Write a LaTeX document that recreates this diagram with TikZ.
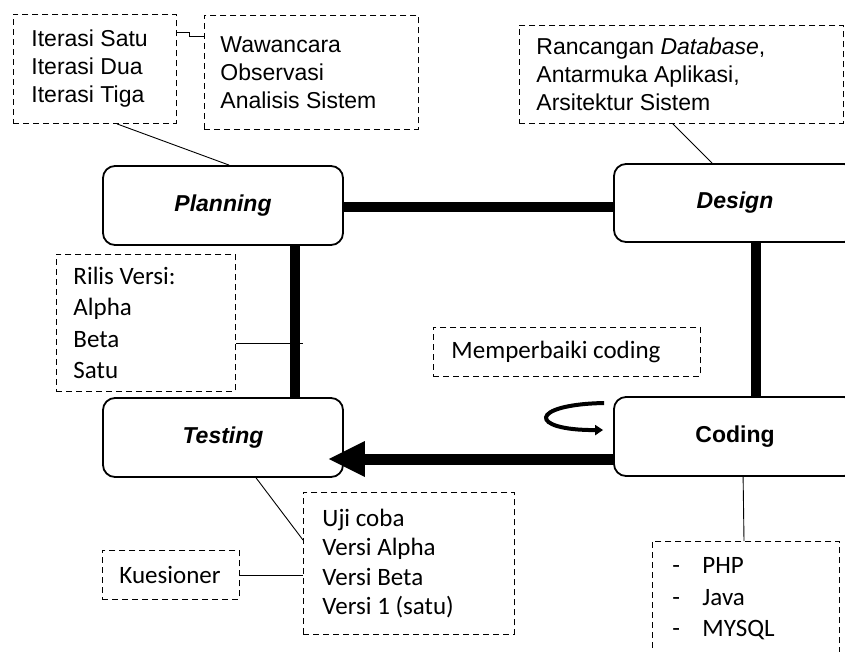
\documentclass[tikz,border=0pt]{standalone}
\usepackage{fontspec}
\setmainfont{Liberation Sans}
\newfontfamily\calfont{Carlito}
\usetikzlibrary{arrows.meta,calc}
\begin{document}
\begin{tikzpicture}[x=1pt,y=-1pt,
 proc/.style={draw, line width=1.8pt, rounded corners=12pt, fill=white, inner sep=0pt, font=\fontsize{23}{28}\selectfont\bfseries\itshape},
 dbox/.style={draw, dashed, dash pattern=on 6pt off 4pt, line width=0.9pt, anchor=north west, align=flush left, inner ysep=0pt},
 arial/.style={font=\fontsize{23}{28}\selectfont},
 calib/.style={font=\calfont\fontsize{25}{31.5}\selectfont},
 link/.style={line width=0.9pt},
 bar/.style={line width=10pt},
]
\useasboundingbox (0,0) rectangle (845,651);

% process nodes
\node[proc, minimum width=240pt, minimum height=79pt] (plan) at (223,205.5) {Planning};
\node[proc, minimum width=242pt, minimum height=78pt] (design) at (735,203) {Design};
\node[proc, minimum width=240pt, minimum height=79pt] (test) at (223,437.5) {Testing};
\node[proc, minimum width=242pt, minimum height=79pt, font=\fontsize{23}{28}\selectfont\bfseries\upshape] (code) at (735,436.5) {Coding};

% note boxes
\node[dbox, arial, text width=127pt, inner xsep=18pt, minimum height=109pt] (iter) at (13,14) {Iterasi Satu\\Iterasi Dua\\Iterasi Tiga};
\node[dbox, arial, text width=182pt, inner xsep=16pt, minimum height=114pt] (wawa) at (204,15) {Wawancara\\Observasi\\Analisis Sistem};
\node[dbox, arial, text width=290pt, inner xsep=17pt, minimum height=98pt] (ranc) at (519,25) {Rancangan \textit{Database},\\Antarmuka Aplikasi,\\Arsitektur Sistem};
\node[dbox, calib, text width=145pt, inner xsep=17pt, minimum height=137pt] (rilis) at (56,254) {Rilis Versi:\\Alpha\\Beta\\Satu};
\node[dbox, calib, text width=231pt, inner xsep=18pt, minimum height=49pt] (perb) at (433,327) {Memperbaiki coding};
\node[dbox, font=\calfont\fontsize{25}{29.5}\selectfont, text width=173pt, inner xsep=19pt, minimum height=142pt] (uji) at (303,492) {Uji coba\\Versi Alpha\\Versi Beta\\Versi 1 (satu)};
\node[dbox, calib, text width=103pt, inner xsep=17pt, minimum height=49pt] (kues) at (102,550) {Kuesioner};
\node[dbox, calib, text width=147pt, inner xsep=20pt, minimum height=115pt] (lang) at (652,541) {\makebox[30pt][l]{-}PHP\\\makebox[30pt][l]{-}Java\\\makebox[30pt][l]{-}MYSQL};

% thick cycle connectors
\draw[bar] ($(plan.east)+(0,1.2)$) -- ($(design.west)+(0,3.7)$);
\draw[bar] ($(plan.south)+(72,0)$) -- ($(test.north)+(72,0)$);
\draw[bar] ($(design.south)+(21,0)$) -- ($(code.north)+(21,0)$);
\draw[line width=11pt, -{Triangle[length=37pt,width=33pt]}] ($(code.west)+(0,22.5)$) -- ($(test.east)+(-16,21.5)$);

% self loop on coding
\draw[line width=4pt, -{Triangle[length=8pt,width=10pt]}] ($(code.west)+(-9,-33.5)$) .. controls ($(code.west)+(-85,-32)$) and ($(code.west)+(-85,-6)$) .. ($(code.west)+(-10,-6.5)$);

% thin links
\draw[link] ($(iter.north east)+(0,18)$) -- ++(13,0) |- ($(wawa.north west)+(0,21)$);
\draw[link] ($(iter.south west)+(104,0)$) -- ($(plan.north west)+(127,0)$);
\draw[link] ($(ranc.south west)+(154,0)$) -- ($(design.north west)+(99,0)$);
\coordinate (rend) at (303,343);
\draw[link] (rilis.east |- rend) -- (rend);
\draw[link] ($(test.south west)+(154,0)$) -- ($(uji.north west)+(0,48)$);
\draw[link] (kues.east) -- (kues.east -| uji.west);
\draw[link] ($(code.south west)+(130,0)$) -- ($(lang.north west)+(92,0)$);
\end{tikzpicture}
\end{document}
